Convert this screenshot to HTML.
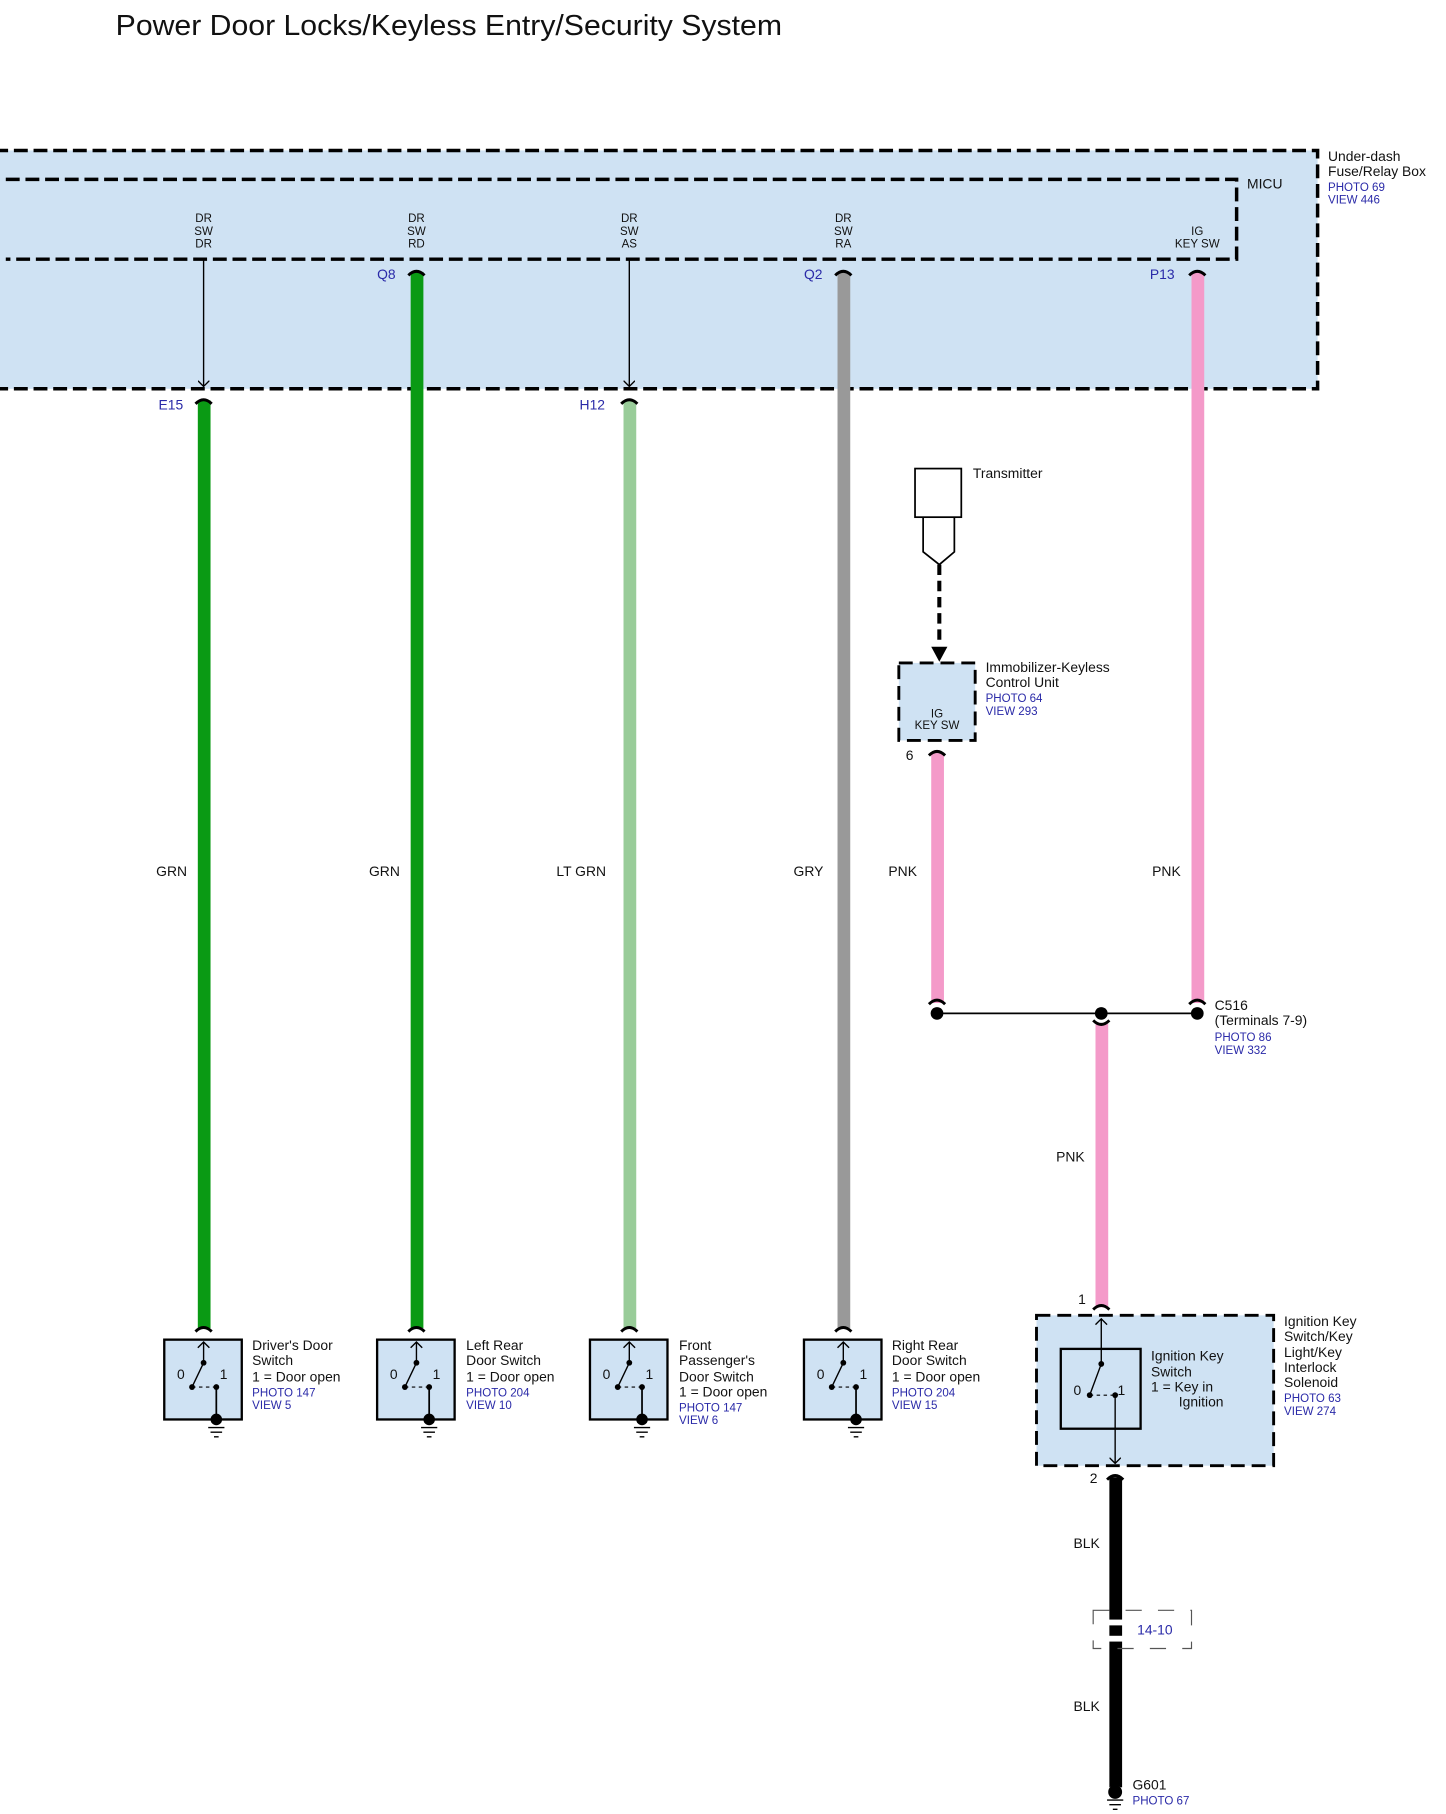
<!DOCTYPE html>
<html><head><meta charset="utf-8"><style>
html,body{margin:0;padding:0;background:#fff}
svg{display:block}
text{font-family:"Liberation Sans",sans-serif;font-size:12px;fill:#111}
.b{fill:#2a2aa8}
.s{font-size:10px}
</style></head><body>
<svg width="1446" height="1814" viewBox="0 0 1250 1568" xmlns="http://www.w3.org/2000/svg">
<defs>
<marker id="ar" markerWidth="10" markerHeight="10" refX="5" refY="5" orient="auto" markerUnits="userSpaceOnUse"><path d="M0,0 L5,5 L0,10" fill="none" stroke="#000" stroke-width="1.2"/></marker>
</defs>
<text x="100" y="30" style="font-size:25px" textLength="576" lengthAdjust="spacingAndGlyphs">Power Door Locks/Keyless Entry/Security System</text>
<rect x="-5" y="130" width="1144" height="206" fill="#cfe2f3" stroke="#000" stroke-width="3" stroke-dasharray="12,5"/>
<path d="M5,155 H1069 V224 H5" fill="none" stroke="#000" stroke-width="3" stroke-dasharray="12,5"/>
<text x="1148" y="139">Under-dash</text><text x="1148" y="152">Fuse/Relay Box</text>
<text x="1148" y="165" class="b s">PHOTO 69</text><text x="1148" y="176" class="b s">VIEW 446</text>
<text x="1078" y="163">MICU</text>
<g class="s" text-anchor="middle">
<text x="176" y="192" class="s">DR</text><text x="176" y="203" class="s">SW</text><text x="176" y="214" class="s">DR</text>
<text x="360" y="192" class="s">DR</text><text x="360" y="203" class="s">SW</text><text x="360" y="214" class="s">RD</text>
<text x="544" y="192" class="s">DR</text><text x="544" y="203" class="s">SW</text><text x="544" y="214" class="s">AS</text>
<text x="729" y="192" class="s">DR</text><text x="729" y="203" class="s">SW</text><text x="729" y="214" class="s">RA</text>
<text x="1035" y="203" class="s">IG</text><text x="1035" y="214" class="s">KEY SW</text>
</g>
<line x1="176" y1="224" x2="176" y2="334" stroke="#000" stroke-width="1.2" marker-end="url(#ar)"/>
<line x1="544" y1="224" x2="544" y2="334" stroke="#000" stroke-width="1.2" marker-end="url(#ar)"/>
<rect x="171" y="346" width="11" height="802" fill="#0a9a14"/>
<rect x="355" y="235" width="11" height="913" fill="#0a9a14"/>
<rect x="539" y="346" width="11" height="802" fill="#99cc99"/>
<rect x="724" y="235" width="11" height="913" fill="#999"/>
<rect x="1030" y="235" width="11" height="632" fill="#f49ac9"/>
<rect x="805" y="651" width="11" height="216" fill="#f49ac9"/>
<rect x="947" y="885" width="11" height="245" fill="#f49ac9"/>
<rect x="959" y="1277" width="11" height="268" fill="#000"/>
<g fill="none" stroke="#000" stroke-width="2.5">
<path d="M169,349 Q176,342 183,349"/><path d="M353,238 Q360,231 367,238"/><path d="M537,349 Q544,342 551,349"/>
<path d="M722,238 Q729,231 736,238"/><path d="M1028,238 Q1035,231 1042,238"/><path d="M803,653 Q810,646 817,653"/>
<path d="M169,1151 Q176,1144 183,1151"/><path d="M353,1151 Q360,1144 367,1151"/><path d="M537,1151 Q544,1144 551,1151"/><path d="M722,1151 Q729,1144 736,1151"/>
<path d="M803,868 Q810,861 817,868"/><path d="M1028,868 Q1035,861 1042,868"/><path d="M945,882 Q952,889 959,882"/>
<path d="M945,1132 Q952,1125 959,1132"/><path d="M957,1279 Q964,1272 971,1279"/>
</g>
<g class="b">
<text x="137" y="354" class="b">E15</text><text x="326" y="241" class="b">Q8</text><text x="501" y="354" class="b">H12</text>
<text x="695" y="241" class="b">Q2</text><text x="994" y="241" class="b">P13</text>
</g>
<text x="135" y="757">GRN</text><text x="319" y="757">GRN</text><text x="481" y="757">LT GRN</text>
<text x="686" y="757">GRY</text><text x="768" y="757">PNK</text><text x="996" y="757">PNK</text><text x="913" y="1004">PNK</text>
<text x="928" y="1338">BLK</text><text x="928" y="1479">BLK</text>
<g id="sw">
<rect x="142" y="1158" width="67" height="69" fill="#cfe2f3" stroke="#000" stroke-width="2"/>
<line x1="176" y1="1160" x2="176" y2="1178" stroke="#000" stroke-width="1.2"/>
<path d="M171,1165 L176,1160 L181,1165" fill="none" stroke="#000" stroke-width="1.2"/>
<circle cx="176" cy="1178" r="2.5"/><line x1="176" y1="1178" x2="166" y2="1199" stroke="#000" stroke-width="1.2"/>
<circle cx="166" cy="1199" r="2.5"/><line x1="166" y1="1199" x2="186" y2="1199" stroke="#000" stroke-dasharray="3,3"/>
<circle cx="187" cy="1199" r="2.5"/><line x1="187" y1="1199" x2="187" y2="1225" stroke="#000" stroke-width="1.5"/>
<circle cx="187" cy="1227" r="5"/><path d="M180,1234 H194 M182,1238 H192 M185,1242 H189" stroke="#000" stroke-width="1.2"/>
<text x="153" y="1192">0</text><text x="190" y="1192">1</text>
</g>
<use href="#sw" x="184"/><use href="#sw" x="368"/><use href="#sw" x="553"/>
<text x="218" y="1167">Driver's Door</text><text x="218" y="1180">Switch</text><text x="218" y="1194">1 = Door open</text><text x="218" y="1207" class="b s">PHOTO 147</text><text x="218" y="1218" class="b s">VIEW 5</text>
<text x="403" y="1167">Left Rear</text><text x="403" y="1180">Door Switch</text><text x="403" y="1194">1 = Door open</text><text x="403" y="1207" class="b s">PHOTO 204</text><text x="403" y="1218" class="b s">VIEW 10</text>
<text x="587" y="1167">Front</text><text x="587" y="1180">Passenger's</text><text x="587" y="1194">Door Switch</text><text x="587" y="1207">1 = Door open</text><text x="587" y="1220" class="b s">PHOTO 147</text><text x="587" y="1231" class="b s">VIEW 6</text>
<text x="771" y="1167">Right Rear</text><text x="771" y="1180">Door Switch</text><text x="771" y="1194">1 = Door open</text><text x="771" y="1207" class="b s">PHOTO 204</text><text x="771" y="1218" class="b s">VIEW 15</text>
<rect x="791" y="405" width="40" height="42" fill="#fff" stroke="#000" stroke-width="1.5"/>
<path d="M798,447 V477 L812,488 L825,477 V447" fill="none" stroke="#000" stroke-width="1.5"/>
<line x1="812" y1="488" x2="812" y2="558" stroke="#000" stroke-width="3.5" stroke-dasharray="9,5"/>
<path d="M805,559 L819,559 L812,572 Z"/>
<text x="841" y="413">Transmitter</text>
<rect x="777" y="573" width="66" height="67" fill="#cfe2f3" stroke="#000" stroke-width="2.5" stroke-dasharray="12,6"/>
<text x="810" y="620" text-anchor="middle" class="s">IG</text><text x="810" y="630" text-anchor="middle" class="s">KEY SW</text>
<text x="852" y="581">Immobilizer-Keyless</text><text x="852" y="594">Control Unit</text>
<text x="852" y="607" class="b s">PHOTO 64</text><text x="852" y="618" class="b s">VIEW 293</text>
<text x="783" y="657">6</text>
<line x1="810" y1="876" x2="1035" y2="876" stroke="#000" stroke-width="1.5"/>
<circle cx="810" cy="876" r="5.5"/><circle cx="952" cy="876" r="5.5"/><circle cx="1035" cy="876" r="5.5"/>
<text x="1050" y="873">C516</text><text x="1050" y="886">(Terminals 7-9)</text>
<text x="1050" y="900" class="b s">PHOTO 86</text><text x="1050" y="911" class="b s">VIEW 332</text>
<rect x="896" y="1137" width="205" height="130" fill="#cfe2f3" stroke="#000" stroke-width="2.5" stroke-dasharray="12,6"/>
<rect x="917" y="1166" width="69" height="69" fill="none" stroke="#000" stroke-width="2"/>
<text x="932" y="1127">1</text>
<line x1="952" y1="1140" x2="952" y2="1178" stroke="#000" stroke-width="1.2"/>
<path d="M947,1145 L952,1140 L957,1145" fill="none" stroke="#000" stroke-width="1.2"/>
<circle cx="952" cy="1179" r="2.5"/><line x1="952" y1="1179" x2="942" y2="1206" stroke="#000" stroke-width="1.2"/>
<circle cx="942" cy="1206" r="2.5"/><line x1="942" y1="1206" x2="962" y2="1206" stroke="#000" stroke-dasharray="3,3"/>
<circle cx="964" cy="1206" r="2.5"/><line x1="964" y1="1206" x2="964" y2="1265" stroke="#000" stroke-width="1.2" marker-end="url(#ar)"/>
<text x="928" y="1206">0</text><text x="966" y="1206">1</text>
<text x="995" y="1176">Ignition Key</text><text x="995" y="1190">Switch</text><text x="995" y="1203">1 = Key in</text><text x="1019" y="1216">Ignition</text>
<text x="1110" y="1146">Ignition Key</text><text x="1110" y="1159">Switch/Key</text><text x="1110" y="1173">Light/Key</text><text x="1110" y="1186">Interlock</text><text x="1110" y="1199">Solenoid</text>
<text x="1110" y="1212" class="b s">PHOTO 63</text><text x="1110" y="1223" class="b s">VIEW 274</text>
<text x="942" y="1282">2</text>
<rect x="945" y="1392" width="85" height="33" fill="none" stroke="#555" stroke-width="1" stroke-dasharray="14,14"/>
<rect x="955" y="1400" width="20" height="5" fill="#fff"/><rect x="955" y="1414" width="20" height="5" fill="#fff"/>
<text x="983" y="1413" class="b">14-10</text>
<path d="M957,1548 Q964,1541 971,1548" fill="none" stroke="#fff" stroke-width="2"/>
<circle cx="964" cy="1549" r="6"/><path d="M957,1556 H971 M959,1560 H969 M962,1564 H966" stroke="#000" stroke-width="1.2"/>
<text x="979" y="1547">G601</text><text x="979" y="1560" class="b s">PHOTO 67</text>
</svg>
</body></html>
